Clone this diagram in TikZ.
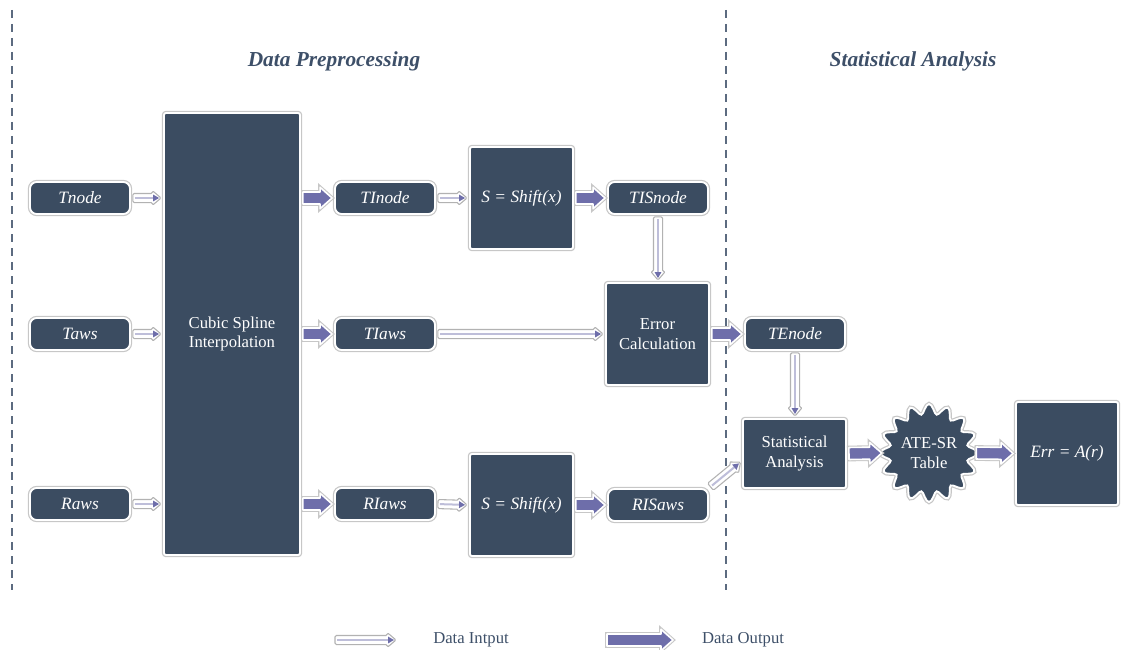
\documentclass[tikz,border=0pt]{standalone}
\usepackage{fontspec}
\setmainfont{Liberation Serif}
\usetikzlibrary{calc}
\definecolor{nfill}{HTML}{3B4C61}
\definecolor{afill}{HTML}{6E6EAA}
\definecolor{ttl}{HTML}{3D4F68}
\definecolor{sepcol}{HTML}{5C6B80}
\tikzset{
 nbase/.style={fill=nfill, draw=white, line width=1.4pt, preaction={draw=black!22, line width=3.2pt}, text=white, font=\fontsize{12.5}{14.5}\selectfont, align=center, inner sep=0pt},
 itext/.style={font=\fontsize{13}{15}\selectfont\itshape},
 pill/.style={nbase, rounded corners=5pt, minimum width=75pt, minimum height=24pt, itext},
 box/.style={nbase, rounded corners=1.5pt},
 outarr/.style={fill=afill, draw=white, line width=1.2pt, line join=round, preaction={draw=black!22, line width=2.8pt}},
 inarr/.style={fill=white, draw=black!30, line width=0.8pt, line join=round, rounded corners=1pt},
 sepline/.style={draw=sepcol, line width=0.9pt, dash pattern=on 6pt off 4.5pt},
 ttlstyle/.style={text=ttl, font=\fontsize{16}{19}\selectfont\bfseries\itshape},
 leg/.style={text=ttl, font=\fontsize{12.5}{15}\selectfont},
}
\newcommand\ArrDo[4]{%
 \path[#1] let \p1=(#2), \p2=(#3), \n1={atan2(\y2-\y1,\x2-\x1)}, \n2={veclen(\x2-\x1,\y2-\y1)} in [shift={(\p1)}, rotate={\n1}] #4;}
\newcommand\OutArr[2]{%
 \ArrDo{outarr}{#1}{#2}{(1.5pt,-4.5pt) -- (\n2-10.5pt,-4.5pt) -- (\n2-10.5pt,-8pt) -- (\n2-1.5pt,0pt) -- (\n2-10.5pt,8pt) -- (\n2-10.5pt,4.5pt) -- (1.5pt,4.5pt) -- cycle}}
\newcommand\InArr[2]{%
 \ArrDo{inarr}{#1}{#2}{(1.5pt,-3.4pt) -- (\n2-8pt,-3.4pt) -- (\n2-8pt,-5.5pt) -- (\n2-1.5pt,0pt) -- (\n2-8pt,5.5pt) -- (\n2-8pt,3.4pt) -- (1.5pt,3.4pt) -- cycle}%
 \ArrDo{draw=afill!45, line width=1.5pt}{#1}{#2}{(3pt,0pt) -- (\n2-7pt,0pt)}%
 \ArrDo{fill=afill}{#1}{#2}{(\n2-7.5pt,-2.6pt) -- (\n2-3pt,0pt) -- (\n2-7.5pt,2.6pt) -- cycle}}
\begin{document}
\begin{tikzpicture}[x=0.75pt,y=-0.75pt]
\useasboundingbox (0,0) rectangle (1123,649);
% separators
\coordinate (d1t) at (12,10); \coordinate (d1b) at (12,590);
\coordinate (d2t) at (726,10); \coordinate (d2b) at (726,590);
\draw[sepline] (d1t) -- (d1b);
\draw[sepline] (d2t) -- (d2b);
% titles
\node[ttlstyle] (t1) at (334,61) {Data Preprocessing};
\node[ttlstyle] (t2) at (913,61) {Statistical Analysis};
% nodes
\node[pill] (Tnode) at (80,198) {Tnode};
\node[pill] (Taws) at (80,334) {Taws};
\node[pill] (Raws) at (80,504) {Raws};
\node[box, minimum width=102pt, minimum height=331.5pt] (Cubic) at (232,334) {Cubic Spline\\Interpolation};
\node[pill] (TInode) at (385,198) {TInode};
\node[pill] (TIaws) at (385,334) {TIaws};
\node[pill] (RIaws) at (385,504) {RIaws};
\node[box, minimum width=77.25pt, minimum height=76.5pt, itext] (Shift1) at (521.5,198) {S = Shift(x)};
\node[box, minimum width=77.25pt, minimum height=76.5pt, itext] (Shift2) at (521.5,505) {S = Shift(x)};
\node[pill] (TISnode) at (658,198) {TISnode};
\node[pill] (RISaws) at (658,505) {RISaws};
\node[box, minimum width=77.25pt, minimum height=76.5pt] (ErrC) at (657.5,334) {Error\\Calculation};
\node[pill] (TEnode) at (795,334) {TEnode};
\node[box, minimum width=77.25pt, minimum height=51.75pt] (Stat) at (794.5,453.5) {Statistical\\Analysis};
\path[nbase] plot[domain=0:357.1875, samples=128] ({929+(44+5*cos(16*\x))*cos(\x)},{453+(44+5*cos(16*\x))*sin(\x)}) -- cycle;
\node[circle, minimum size=67.5pt, inner sep=0pt, text=white, align=center, font=\fontsize{12.5}{14.5}\selectfont] (ATE) at (929,453) {ATE-SR\\Table};
\node[box, minimum width=76.5pt, minimum height=77.25pt, itext] (Err) at (1067,453.5) {Err = A(r)};
% connectors
\InArr{Tnode.east}{Tnode.east -| Cubic.west}
\InArr{Taws.east}{Taws.east -| Cubic.west}
\InArr{Raws.east}{Raws.east -| Cubic.west}
\OutArr{Cubic.east |- TInode}{TInode.west}
\OutArr{Cubic.east |- TIaws}{TIaws.west}
\OutArr{Cubic.east |- RIaws}{RIaws.west}
\InArr{TInode.east}{Shift1.west}
\OutArr{Shift1.east}{TISnode.west}
\InArr{TISnode.south}{TISnode.south |- ErrC.north}
\InArr{TIaws.east}{TIaws.east -| ErrC.west}
\OutArr{ErrC.east}{TEnode.west}
\InArr{TEnode.south}{TEnode.south |- Stat.north}
\InArr{RIaws.east}{Shift2.west}
\OutArr{Shift2.east}{RISaws.west}
\InArr{RISaws.north east}{Stat.188}
\OutArr{Stat.east}{ATE.west}
\OutArr{ATE.east}{Err.west}
% legend
\coordinate (li1) at (333,640); \coordinate (li2) at (398,640);
\coordinate (lo1) at (605,640); \coordinate (lo2) at (675,640);
\InArr{li1}{li2}
\OutArr{lo1}{lo2}
\node[leg] (lt1) at (471,640) {Data Intput};
\node[leg] (lt2) at (743,640) {Data Output};
\end{tikzpicture}
\end{document}
